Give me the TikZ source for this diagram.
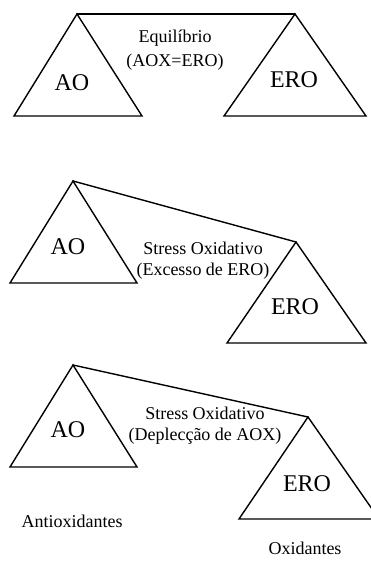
\documentclass[tikz,border=0pt]{standalone}
\usepackage{fontspec}
\setmainfont{Liberation Serif}
\usepackage{tikz}

\begin{document}
\begin{tikzpicture}[
  x=1pt, y=-1pt,
  beam/.style={line width=1.4pt, line cap=round},
  pan/.style={line width=1.4pt, line join=miter},
  weight/.style={font=\fontsize{24}{28}\selectfont, inner sep=0pt},
  caption/.style={font=\fontsize{18}{21}\selectfont, align=center, inner sep=0pt}
]
\useasboundingbox (0,0) rectangle (371,562);

% equilibrio
\coordinate (aoTop1) at (77,14);
\coordinate (eroTop1) at (295,14);
\draw[pan] (aoTop1) -- ++(-63,102) -- ++(128,0) -- cycle;
\draw[pan] (eroTop1) -- ++(-71,102) -- ++(142,0) -- cycle;
\draw[beam] (aoTop1) -- (eroTop1);
\node[weight] (ao1) at (72,83) {AO};
\node[weight] (ero1) at (294,80) {ERO};
\node[caption] (eq) at (175,50) {Equilíbrio\\[3pt](AOX=ERO)};

% excesso de ERO
\coordinate (aoTop2) at (73,181);
\coordinate (eroTop2) at (296,242);
\draw[pan] (aoTop2) -- ++(-63,102) -- ++(127,0) -- cycle;
\draw[pan] (eroTop2) -- ++(-69,101) -- ++(139,0) -- cycle;
\draw[beam] (aoTop2) -- (eroTop2);
\node[weight] (ao2) at (68,247) {AO};
\node[weight] (ero2) at (295,307) {ERO};
\node[caption] (exc) at (203,261) {Stress Oxidativo\\(Excesso de ERO)};

% deplecao de AOX
\coordinate (aoTop3) at (73,365);
\coordinate (eroTop3) at (308,417);
\draw[pan] (aoTop3) -- ++(-63,102) -- ++(127,0) -- cycle;
\draw[pan] (eroTop3) -- ++(-69,102) -- ++(140,0) -- cycle;
\draw[beam] (aoTop3) -- (eroTop3);
\node[weight] (ao3) at (68,430) {AO};
\node[weight] (ero3) at (307,484) {ERO};
\node[caption] (dep) at (205,426) {Stress Oxidativo\\(Deplecção de AOX)};

\node[caption] (antiox) at (72,521) {Antioxidantes};
\node[caption] (ox) at (305,548) {Oxidantes};

\end{tikzpicture}
\end{document}
